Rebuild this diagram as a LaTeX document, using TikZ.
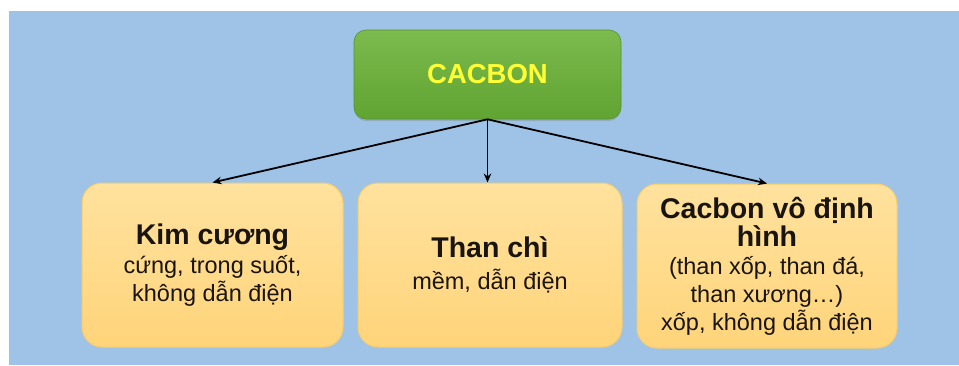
\documentclass[tikz,border=0pt]{standalone}
\usepackage{fontspec}
\setmainfont{Liberation Sans}
\usetikzlibrary{arrows.meta,shadows}
\definecolor{bgblue}{RGB}{158,195,230}
\definecolor{gtop}{RGB}{124,186,78}
\definecolor{gbot}{RGB}{96,164,50}
\definecolor{ytop}{RGB}{255,226,158}
\definecolor{ybot}{RGB}{255,212,122}
\definecolor{yborder}{RGB}{245,205,110}
\definecolor{ctext}{RGB}{255,255,51}
\definecolor{txt}{RGB}{25,20,15}
\tikzset{
  rootbox/.style={rectangle, rounded corners=12pt, top color=gtop, bottom color=gbot,
    draw=gbot!90!black, line width=0.6pt, minimum width=267pt, minimum height=89pt,
    drop shadow={shadow xshift=0pt, shadow yshift=-2pt, opacity=0.35},
    text=ctext, font=\bfseries\fontsize{27.5}{30}\selectfont, inner sep=0pt},
  leafbox/.style={rectangle, rounded corners=20pt, top color=ytop, bottom color=ybot,
    draw=yborder, line width=1pt, minimum width=261pt, minimum height=164pt,
    text=txt, align=center, inner sep=0pt, font=\fontsize{23.5}{28}\selectfont},
  conn/.style={-{Stealth[length=9pt,width=7.5pt]}, line width=1.8pt, black}
}
\newcommand{\ttlfont}{\bfseries\fontsize{28.5}{31}\selectfont}
\begin{document}
\begin{tikzpicture}[x=1pt,y=-1pt]
\useasboundingbox (0,0) rectangle (959,365);
\fill[white] (0,0) rectangle (959,365);
\fill[bgblue] (9,11) rectangle (959,365);
\node[rootbox] (root) at (487.5,74.5) {CACBON};
\node[leafbox] (kim) at (212.5,265) {{\ttlfont Kim cương}\\[1pt] cứng, trong suốt,\\ không dẫn điện};
\node[leafbox, minimum width=264pt] (than) at (490,265) {{\ttlfont Than chì}\\[4pt] mềm, dẫn điện};
\node[leafbox, minimum width=260pt] (vdh) at (767,266) {{\ttlfont Cacbon vô định}\\{\ttlfont hình}\\ (than xốp, than đá,\\ than xương…)\\ xốp, không dẫn điện};
\draw[conn] (root.south) -- (kim.north);
\draw[conn] (root.south) -- (root.south |- than.north);
\draw[conn] (root.south) -- (vdh.north);
\end{tikzpicture}
\end{document}
